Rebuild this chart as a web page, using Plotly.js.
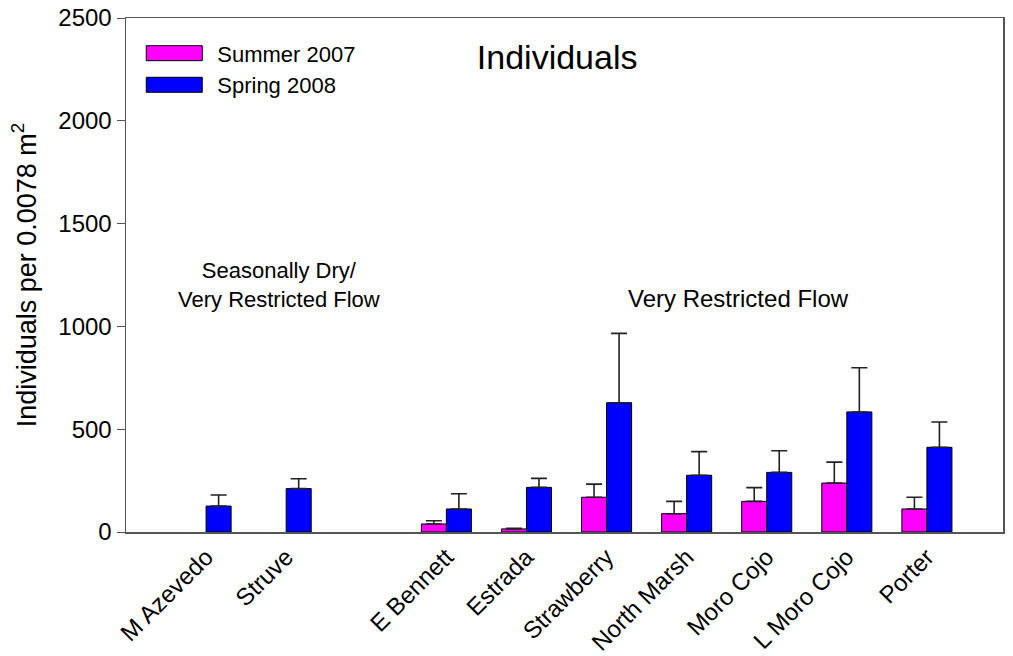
<!DOCTYPE html>
<html><head><meta charset="utf-8">
<script src="https://cdn.plot.ly/plotly-3.0.1.min.js"></script>
<style>body{margin:0;background:#fff}#c{width:1013px;height:656px}</style>
</head><body><div id="c"></div>
<script>
const categories = ['M Azevedo','Struve',' ','E Bennett','Estrada','Strawberry','North Marsh','Moro Cojo','L Moro Cojo','Porter'];
const tickLabels = ['M Azevedo','Struve','E Bennett','Estrada','Strawberry','North Marsh','Moro Cojo','L Moro Cojo','Porter'];
const summer2007 = [null, null, null, 39, 15, 169, 89, 149, 238, 112];
const summer2007Err = [null, null, null, 16, 3, 64, 60, 67, 102, 57];
const spring2008 = [126, 211, null, 112, 217, 629, 276, 290, 584, 412];
const spring2008Err = [54, 48, null, 74, 44, 337, 115, 105, 215, 123];
const yTicks = [0, 500, 1000, 1500, 2000, 2500];

const font = 'Arial, "Liberation Sans", sans-serif';
const errStyle = {color: '#222', thickness: 1.6, width: 8};

const traces = [
  {type: 'bar', name: 'Summer 2007', x: categories, y: summer2007,
   marker: {color: '#FF00FF', line: {color: '#000', width: 1}},
   error_y: Object.assign({type: 'data', array: summer2007Err, arrayminus: summer2007Err.map(() => 0), symmetric: false}, errStyle)},
  {type: 'bar', name: 'Spring 2008', x: categories, y: spring2008,
   marker: {color: '#0000FF', line: {color: '#000', width: 1}},
   error_y: Object.assign({type: 'data', array: spring2008Err, arrayminus: spring2008Err.map(() => 0), symmetric: false}, errStyle)}
];

const layout = {
  width: 1013, height: 656,
  margin: {l: 126, r: 10, t: 18, b: 124},
  paper_bgcolor: '#fff', plot_bgcolor: '#fff',
  font: {family: font, color: '#000'},
  barmode: 'group', bargap: 0.375, bargroupgap: 0,
  showlegend: true,
  legend: {x: 0.006, y: 0.972, xanchor: 'left', yanchor: 'top', font: {size: 22, family: font},
           itemwidth: 76, bgcolor: 'rgba(0,0,0,0)', tracegroupgap: 0},
  title: {text: 'Individuals', font: {size: 34, family: font}, x: 0.55, xref: 'container', xanchor: 'center', y: 0.913, yanchor: 'middle'},
  xaxis: {type: 'category', categoryorder: 'array', categoryarray: categories,
          tickvals: tickLabels, ticktext: tickLabels,
          range: [-1, 9.95], showline: true, linecolor: '#555', linewidth: 1.5, mirror: true,
          ticks: '', tickangle: -45, tickfont: {size: 24, family: font}, showgrid: false, zeroline: false},
  yaxis: {range: [0, 2500], tickvals: yTicks, ticktext: yTicks.map(String), showline: true, linecolor: '#555', linewidth: 1.5, mirror: true,
          ticks: 'outside', ticklen: 8, tickcolor: '#555', tickfont: {size: 24, family: font},
          showgrid: false, zeroline: false,
          title: {text: 'Individuals per 0.0078 m<sup>2</sup>', font: {size: 27, family: font}, standoff: 14}},
  annotations: [
    {text: 'Seasonally Dry/<br>Very Restricted Flow', xref: 'paper', x: 0.174, yref: 'y', y: 1201,
     showarrow: false, font: {size: 22, family: font}, xanchor: 'center', yanchor: 'middle'},
    {text: 'Very Restricted Flow', xref: 'paper', x: 0.698, yref: 'y', y: 1138,
     showarrow: false, font: {size: 24, family: font}, xanchor: 'center', yanchor: 'middle'}
  ]
};

Plotly.newPlot('c', traces, layout, {displayModeBar: false, staticPlot: true}).then(function (gd) {
  // widen the legend swatches to the reference's long rectangles
  gd.querySelectorAll('.legend .legendpoints path').forEach(function (p) {
    p.setAttribute('d', 'M-28,-7.5H28V7.5H-28Z');
    p.style.strokeWidth = '1px';
  });
});
</script></body></html>
